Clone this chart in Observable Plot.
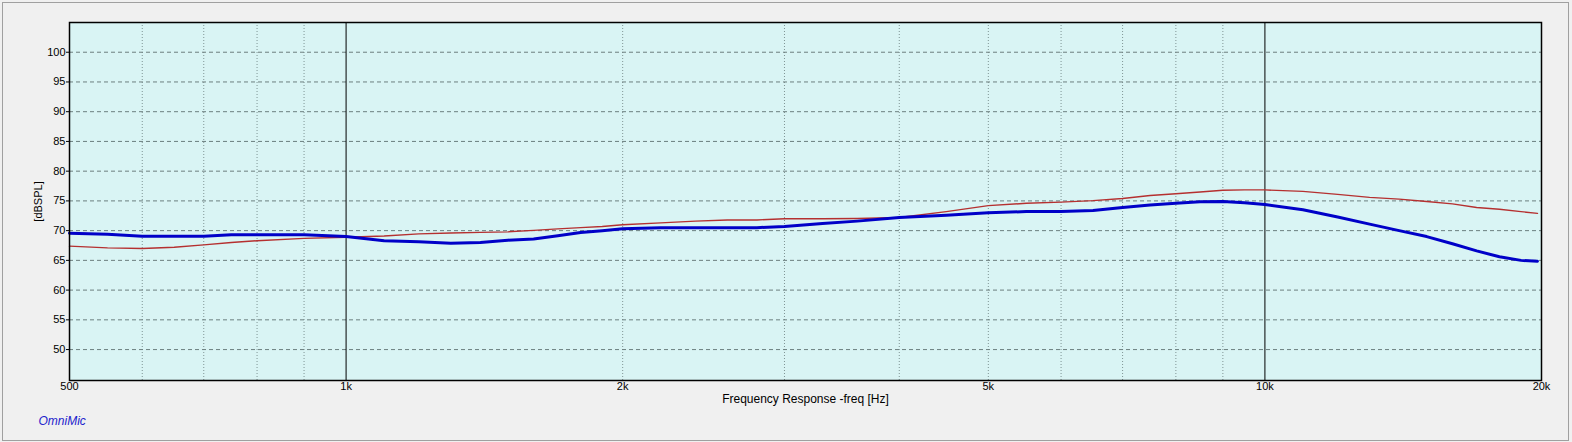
<!DOCTYPE html>
<html>
<head>
<meta charset="utf-8">
<script src="https://cdn.jsdelivr.net/npm/d3@7"></script>
<script src="https://cdn.jsdelivr.net/npm/@observablehq/plot@0.6"></script>
<style>
  html, body { margin: 0; padding: 0; background: #f0f0f0; }
  #wrap { position: relative; width: 1572px; height: 442px; }
  #border { position: absolute; left: 2px; top: 2px; width: 1565px; height: 437px; border: 1px solid #a0a0a0; pointer-events: none; }
  svg { position: absolute; left: 0; top: 0; }
</style>
</head>
<body>
<div id="wrap"><div id="border"></div></div>
<script>
const freqs = [500, 550, 600, 650, 700, 750, 800, 900, 1000, 1100, 1200, 1300, 1400, 1500, 1600, 1700, 1800, 1900, 2000, 2200, 2400, 2600, 2800, 3000, 3300, 3600, 4000, 4500, 5000, 5500, 6000, 6500, 7000, 7500, 8000, 8500, 9000, 9500, 10000, 11000, 12000, 13000, 14000, 15000, 16000, 17000, 18000, 19000, 19800];
const blueDb = [69.55, 69.4, 69.05, 69.05, 69.05, 69.3, 69.3, 69.3, 69.0, 68.3, 68.15, 67.9, 68.0, 68.4, 68.6, 69.15, 69.7, 70.0, 70.3, 70.5, 70.5, 70.5, 70.5, 70.7, 71.2, 71.6, 72.2, 72.6, 73.0, 73.2, 73.2, 73.4, 73.9, 74.3, 74.6, 74.85, 74.9, 74.7, 74.4, 73.5, 72.3, 71.1, 70.0, 69.0, 67.8, 66.6, 65.6, 65.0, 64.85];
const redDb = [67.4, 67.1, 67.0, 67.2, 67.6, 68.0, 68.3, 68.7, 68.9, 69.1, 69.45, 69.6, 69.7, 69.8, 70.05, 70.3, 70.5, 70.7, 71.0, 71.3, 71.6, 71.8, 71.8, 72.0, 72.0, 72.05, 72.2, 73.2, 74.2, 74.6, 74.8, 75.05, 75.4, 75.9, 76.2, 76.5, 76.8, 76.85, 76.85, 76.6, 76.1, 75.6, 75.3, 74.9, 74.5, 73.9, 73.6, 73.2, 72.9];

const xTickValues = [500, 1000, 2000, 5000, 10000, 20000];
const xTickLabels = ["500", "1k", "2k", "5k", "10k", "20k"];
const minorGrid = [600, 700, 800, 900, 2000, 3000, 4000, 5000, 6000, 7000, 8000, 9000];
const majorGrid = [1000, 10000];
const yTicks = [50, 55, 60, 65, 70, 75, 80, 85, 90, 95, 100];

const blue = freqs.map((f, i) => ({f, v: blueDb[i]}));
const red = freqs.map((f, i) => ({f, v: redDb[i]}));
const labelOf = new Map(xTickValues.map((v, i) => [v, xTickLabels[i]]));

const chart = Plot.plot({
  width: 1572,
  height: 442,
  marginLeft: 69,
  marginRight: 31,
  marginTop: 22,
  marginBottom: 62,
  style: {background: "transparent", fontFamily: "'Liberation Sans', Arial, sans-serif", fontSize: "11px", color: "#000", overflow: "visible"},
  x: {type: "log", domain: [500, 20000]},
  y: {domain: [44.8, 105]},
  marks: [
    Plot.frame({fill: "#d9f4f4"}),
    Plot.ruleX(minorGrid, {stroke: "#7f9494", strokeDasharray: "1,2", strokeWidth: 1}),
    Plot.ruleY(yTicks, {stroke: "#6c7f7f", strokeDasharray: "4,3", strokeWidth: 1}),
    Plot.ruleX(majorGrid, {stroke: "#000", strokeWidth: 1}),
    Plot.line(red, {x: "f", y: "v", stroke: "#b53030", strokeWidth: 1.4}),
    Plot.line(blue, {x: "f", y: "v", stroke: "#0000c8", strokeWidth: 3}),
    Plot.frame({stroke: "#000", strokeWidth: 1.5}),
    Plot.axisX({ticks: xTickValues, tickFormat: d => labelOf.get(d), tickSize: 0, tickPadding: 2, label: null, fontSize: 11}),
    Plot.axisY({ticks: yTicks, tickSize: 3, tickPadding: 1, label: null, fontSize: 11}),
    Plot.text(["[dBSPL]"], {frameAnchor: "left", dx: -31, rotate: -90, fontSize: 11, textAnchor: "middle"}),
    Plot.text(["Frequency Response -freq [Hz]"], {frameAnchor: "bottom", dy: 19, fontSize: 12, textAnchor: "middle", lineAnchor: "middle"}),
    Plot.text(["OmniMic"], {frameAnchor: "bottom-left", dx: -31, dy: 41, fontSize: 12, fontStyle: "italic", fill: "#2222cc", textAnchor: "start", lineAnchor: "middle"})
  ]
});
document.getElementById("wrap").appendChild(chart);
</script>
</body>
</html>
